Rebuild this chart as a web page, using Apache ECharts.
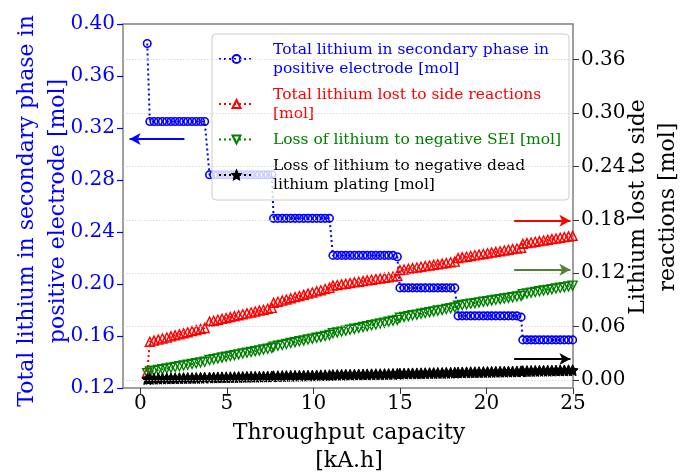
<!DOCTYPE html>
<html>
<head>
<meta charset="utf-8">
<script src="https://cdn.jsdelivr.net/npm/echarts@6/dist/echarts.min.js"></script>
<style>
  html, body { margin: 0; padding: 0; background: #ffffff; }
  #chart { width: 691px; height: 473px; }
</style>
</head>
<body>
<div id="chart"></div>
<script>
// Throughput capacity [kA.h] at each sample
const throughput = [
  0.40,
  0.55, 0.79, 1.04, 1.28, 1.53, 1.77, 2.01, 2.26, 2.50, 2.74, 2.99, 3.23, 3.48, 3.72,
  4.00, 4.24, 4.48, 4.72, 4.96, 5.20, 5.44, 5.68, 5.92, 6.16, 6.40, 6.64, 6.88, 7.12, 7.36, 7.60,
  7.70, 7.95, 8.20, 8.44, 8.69, 8.94, 9.19, 9.44, 9.69, 9.94, 10.19, 10.43, 10.68, 10.93,
  11.13, 11.38, 11.63, 11.87, 12.12, 12.37, 12.62, 12.87, 13.11, 13.36, 13.61, 13.86, 14.11, 14.35, 14.60, 14.85,
  15.00, 15.24, 15.49, 15.73, 15.98, 16.22, 16.46, 16.71, 16.95, 17.19, 17.44, 17.68, 17.93, 18.17,
  18.36, 18.60, 18.85, 19.09, 19.33, 19.57, 19.82, 20.06, 20.30, 20.54, 20.79, 21.03, 21.27, 21.51, 21.76, 22.00,
  22.10, 22.34, 22.58, 22.82, 23.06, 23.30, 23.54, 23.78, 24.02, 24.26, 24.50, 24.74, 24.98
];

// Total lithium in secondary phase in positive electrode [mol] (left axis)
const liSecondary = [
  0.385,
  0.325, 0.325, 0.325, 0.325, 0.325, 0.325, 0.325, 0.325, 0.325, 0.325, 0.325, 0.325, 0.325, 0.325,
  0.284, 0.284, 0.284, 0.284, 0.284, 0.284, 0.284, 0.284, 0.284, 0.284, 0.284, 0.284, 0.284, 0.284, 0.284, 0.284,
  0.2505, 0.2505, 0.2505, 0.2505, 0.2505, 0.2505, 0.2505, 0.2505, 0.2505, 0.2505, 0.2505, 0.2505, 0.2505, 0.2505,
  0.222, 0.222, 0.222, 0.222, 0.222, 0.222, 0.222, 0.222, 0.222, 0.222, 0.222, 0.222, 0.222, 0.222, 0.222, 0.221,
  0.197, 0.197, 0.197, 0.197, 0.197, 0.197, 0.197, 0.197, 0.197, 0.197, 0.197, 0.197, 0.197, 0.197,
  0.1755, 0.1755, 0.1755, 0.1755, 0.1755, 0.1755, 0.1755, 0.1755, 0.1755, 0.1755, 0.1755, 0.1755, 0.1755, 0.1755, 0.1755, 0.1745,
  0.157, 0.157, 0.157, 0.157, 0.157, 0.157, 0.157, 0.157, 0.157, 0.157, 0.157, 0.157, 0.157
];

// Total lithium lost to side reactions [mol] (right axis)
const liLostTotal = [
  0.0090,
  0.0430, 0.0442, 0.0454, 0.0466, 0.0478, 0.0490, 0.0502, 0.0513, 0.0525, 0.0537, 0.0549, 0.0561, 0.0573, 0.0585,
  0.0656, 0.0666, 0.0677, 0.0687, 0.0697, 0.0707, 0.0718, 0.0728, 0.0738, 0.0748, 0.0759, 0.0769, 0.0779, 0.0789, 0.0800, 0.0810,
  0.0866, 0.0879, 0.0892, 0.0905, 0.0918, 0.0931, 0.0944, 0.0957, 0.0970, 0.0983, 0.0996, 0.1009, 0.1022, 0.1035,
  0.1060, 0.1067, 0.1075, 0.1082, 0.1089, 0.1097, 0.1104, 0.1111, 0.1119, 0.1126, 0.1133, 0.1141, 0.1148, 0.1155, 0.1163, 0.1170,
  0.1235, 0.1242, 0.1250, 0.1257, 0.1264, 0.1272, 0.1279, 0.1286, 0.1293, 0.1301, 0.1308, 0.1315, 0.1323, 0.1330,
  0.1370, 0.1378, 0.1385, 0.1393, 0.1401, 0.1409, 0.1416, 0.1424, 0.1432, 0.1440, 0.1447, 0.1455, 0.1463, 0.1471, 0.1478, 0.1486,
  0.1530, 0.1538, 0.1545, 0.1553, 0.1560, 0.1568, 0.1575, 0.1583, 0.1590, 0.1598, 0.1605, 0.1613, 0.1620
];

// Loss of lithium to negative SEI [mol] (right axis)
const liSEI = [
  0.0075,
  0.0095, 0.0103, 0.0112, 0.0120, 0.0129, 0.0137, 0.0146, 0.0154, 0.0163, 0.0171, 0.0180, 0.0188, 0.0197, 0.0205,
  0.0225, 0.0234, 0.0243, 0.0252, 0.0261, 0.0270, 0.0279, 0.0288, 0.0297, 0.0306, 0.0315, 0.0324, 0.0333, 0.0342, 0.0351, 0.0360,
  0.0375, 0.0385, 0.0395, 0.0405, 0.0415, 0.0425, 0.0435, 0.0445, 0.0455, 0.0465, 0.0475, 0.0485, 0.0495, 0.0505,
  0.0525, 0.0535, 0.0545, 0.0555, 0.0565, 0.0575, 0.0585, 0.0595, 0.0605, 0.0615, 0.0625, 0.0635, 0.0645, 0.0655, 0.0665, 0.0675,
  0.0700, 0.0709, 0.0718, 0.0727, 0.0735, 0.0744, 0.0753, 0.0762, 0.0771, 0.0780, 0.0788, 0.0797, 0.0806, 0.0815,
  0.0835, 0.0842, 0.0850, 0.0857, 0.0864, 0.0872, 0.0879, 0.0886, 0.0894, 0.0901, 0.0908, 0.0916, 0.0923, 0.0930, 0.0938, 0.0945,
  0.0965, 0.0973, 0.0981, 0.0989, 0.0997, 0.1005, 0.1013, 0.1020, 0.1028, 0.1036, 0.1044, 0.1052, 0.1060
];

// Loss of lithium to negative dead lithium plating [mol] (right axis)
const liPlating = [
  0.0010,
  0.0013, 0.0014, 0.0015, 0.0016, 0.0017, 0.0018, 0.0019, 0.0020, 0.0021, 0.0022, 0.0022, 0.0023, 0.0024, 0.0025,
  0.0027, 0.0028, 0.0029, 0.0030, 0.0030, 0.0031, 0.0032, 0.0033, 0.0034, 0.0035, 0.0036, 0.0036, 0.0037, 0.0038, 0.0039, 0.0040,
  0.0042, 0.0043, 0.0044, 0.0045, 0.0046, 0.0047, 0.0048, 0.0048, 0.0049, 0.0050, 0.0051, 0.0052, 0.0053, 0.0054,
  0.0056, 0.0057, 0.0058, 0.0059, 0.0059, 0.0060, 0.0061, 0.0062, 0.0063, 0.0064, 0.0065, 0.0065, 0.0066, 0.0067, 0.0068, 0.0069,
  0.0071, 0.0072, 0.0073, 0.0074, 0.0074, 0.0075, 0.0076, 0.0077, 0.0078, 0.0079, 0.0079, 0.0080, 0.0081, 0.0082,
  0.0084, 0.0085, 0.0086, 0.0087, 0.0087, 0.0088, 0.0089, 0.0090, 0.0091, 0.0092, 0.0093, 0.0093, 0.0094, 0.0095, 0.0096, 0.0097,
  0.0099, 0.0100, 0.0101, 0.0102, 0.0103, 0.0104, 0.0104, 0.0105, 0.0106, 0.0107, 0.0108, 0.0109, 0.0110
];

// Tick values
const xTicks = [0, 5, 10, 15, 20, 25];
const rightTicks = [0, 0.06, 0.12, 0.18, 0.24, 0.30, 0.36];

const seriesNames = [
  'Total lithium in secondary phase in\npositive electrode [mol]',
  'Total lithium lost to side reactions\n[mol]',
  'Loss of lithium to negative SEI [mol]',
  'Loss of lithium to negative dead\nlithium plating [mol]'
];

const FONT = 'DejaVu Serif';
const BLUE = '#0000ff', RED = '#ff0000', GREEN = '#008000', BLACK = '#000000';
const DOTS = [2, 3];
const STAR = 'path://M0,-10 L2.9,-4 L9.5,-3.1 L4.7,1.5 L5.9,8.1 L0,5 L-5.9,8.1 L-4.7,1.5 L-9.5,-3.1 L-2.9,-4 Z';

const pair = ys => throughput.map((x, i) => [x, ys[i]]);

function arrow(color, x0, x1, y) {
  return {
    silent: true,
    animation: false,
    symbol: ['none', 'arrow'],
    symbolSize: [9, 11],
    label: { show: false },
    emphasis: { disabled: true },
    lineStyle: { type: 'solid', width: 2, color: color },
    data: [[{ coord: [x0, y] }, { coord: [x1, y] }]]
  };
}

const chart = echarts.init(document.getElementById('chart'));

chart.setOption({
  animation: false,
  backgroundColor: '#ffffff',
  grid: {
    left: 123, top: 24, width: 450, height: 364,
    show: true, borderColor: '#808080', borderWidth: 1.5,
    backgroundColor: 'transparent'
  },
  xAxis: {
    type: 'value', min: -1, max: 25,
    axisLine: { show: false, onZero: false },
    splitLine: { show: false },
    axisTick: { show: true, customValues: xTicks, length: 6, lineStyle: { color: '#333333', width: 1 } },
    axisLabel: { customValues: xTicks, color: BLACK, fontFamily: FONT, fontSize: 20, margin: 6 }
  },
  yAxis: [
    {
      type: 'value', position: 'left', min: 0.12, max: 0.40, interval: 0.04,
      axisLine: { show: false, onZero: false },
      splitLine: { show: false },
      axisTick: { show: true, length: 6, lineStyle: { color: BLUE, width: 1.2 } },
      axisLabel: {
        color: BLUE, fontFamily: FONT, fontSize: 20, margin: 8,
        formatter: v => v.toFixed(2)
      }
    },
    {
      type: 'value', position: 'right', min: -0.009, max: 0.40,
      axisLine: { show: false, onZero: false },
      splitLine: { show: false },
      axisTick: { show: true, customValues: rightTicks, length: 6, lineStyle: { color: '#333333', width: 1 } },
      axisLabel: {
        customValues: rightTicks, color: BLACK, fontFamily: FONT, fontSize: 20, margin: 8,
        formatter: v => v.toFixed(2)
      }
    }
  ],
  legend: {
    orient: 'vertical', left: 212, top: 34,
    padding: [6, 8, 6, 6], itemGap: 7, itemWidth: 35, itemHeight: 10,
    backgroundColor: 'rgba(255,255,255,0.8)',
    borderColor: '#cccccc', borderWidth: 1, borderRadius: 4,
    selectedMode: false,
    textStyle: { fontFamily: FONT, fontSize: 15.5, lineHeight: 19, padding: [0, 0, 0, 14] },
    data: [
      { name: seriesNames[0], textStyle: { color: BLUE } },
      { name: seriesNames[1], textStyle: { color: RED } },
      { name: seriesNames[2], textStyle: { color: GREEN } },
      { name: seriesNames[3], textStyle: { color: BLACK } }
    ]
  },
  series: [
    {
      // horizontal guide lines at the right-axis ticks
      name: 'grid', type: 'line', yAxisIndex: 1, data: [], z: 1, silent: true,
      markLine: {
        silent: true, animation: false, symbol: 'none',
        label: { show: false }, emphasis: { disabled: true },
        lineStyle: { color: '#d4d4d4', type: [1.5, 1.5], width: 0.8 },
        data: rightTicks.map(v => ({ yAxis: v }))
      }
    },
    {
      name: seriesNames[0], type: 'line', yAxisIndex: 0, z: 2,
      data: pair(liSecondary),
      symbol: 'circle', symbolSize: 7.5,
      itemStyle: { color: 'rgba(0,0,0,0)', borderColor: BLUE, borderWidth: 1.6 },
      lineStyle: { color: BLUE, width: 2, type: DOTS },
      markLine: arrow(BLUE, 2.55, -0.62, 0.3115)
    },
    {
      name: seriesNames[1], type: 'line', yAxisIndex: 1, z: 3,
      data: pair(liLostTotal),
      symbol: 'triangle', symbolSize: 9,
      itemStyle: { color: 'rgba(0,0,0,0)', borderColor: RED, borderWidth: 1.4 },
      lineStyle: { color: RED, width: 2, type: DOTS },
      markLine: arrow(RED, 21.6, 24.85, 0.179)
    },
    {
      name: seriesNames[2], type: 'line', yAxisIndex: 1, z: 3,
      data: pair(liSEI),
      symbol: 'triangle', symbolRotate: 180, symbolSize: 9,
      itemStyle: { color: 'rgba(0,0,0,0)', borderColor: GREEN, borderWidth: 1.4 },
      lineStyle: { color: GREEN, width: 2, type: DOTS },
      markLine: arrow('#548235', 21.6, 24.85, 0.124)
    },
    {
      name: seriesNames[3], type: 'line', yAxisIndex: 1, z: 3,
      data: pair(liPlating),
      symbol: STAR, symbolSize: 11,
      itemStyle: { color: BLACK, borderColor: BLACK, borderWidth: 1 },
      lineStyle: { color: BLACK, width: 2, type: DOTS },
      markLine: arrow(BLACK, 21.6, 24.85, 0.0236)
    }
  ],
  graphic: [
    {
      type: 'text', x: 43, y: 211, rotation: Math.PI / 2, silent: true,
      style: {
        text: 'Total lithium in secondary phase in\npositive electrode [mol]',
        fill: BLUE, fontFamily: FONT, fontSize: 22, lineHeight: 31,
        align: 'center', verticalAlign: 'middle'
      }
    },
    {
      type: 'text', x: 653, y: 207, rotation: Math.PI / 2, silent: true,
      style: {
        text: 'Lithium lost to side\nreactions [mol]',
        fill: BLACK, fontFamily: FONT, fontSize: 22, lineHeight: 30,
        align: 'center', verticalAlign: 'middle'
      }
    },
    {
      type: 'text', x: 349, y: 447, silent: true,
      style: {
        text: 'Throughput capacity\n[kA.h]',
        fill: BLACK, fontFamily: FONT, fontSize: 22, lineHeight: 28,
        align: 'center', verticalAlign: 'middle'
      }
    }
  ]
});
</script>
</body>
</html>
